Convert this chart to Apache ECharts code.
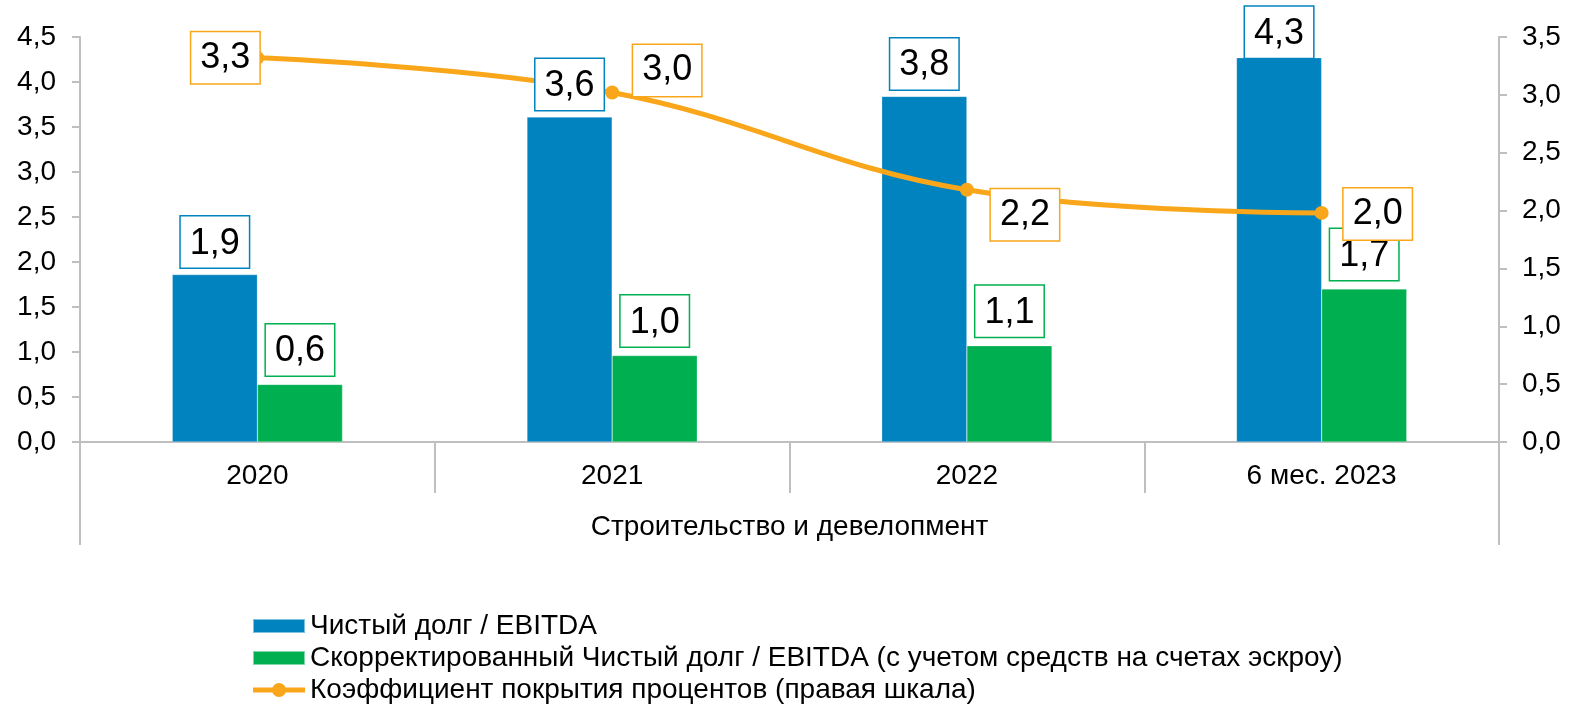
<!DOCTYPE html>
<html><head><meta charset="utf-8">
<script src="https://cdn.jsdelivr.net/npm/echarts@6/dist/echarts.min.js"></script>
<style>html,body{margin:0;padding:0;background:#fff}#c{width:1570px;height:706px}</style>
</head><body><div id="c"></div>
<script>
const categories = ['2020', '2021', '2022', '6 мес. 2023'];
const groupLabel = ['Строительство и девелопмент'];
const netDebt = [1.86, 3.61, 3.84, 4.27];
const adjNetDebt = [0.64, 0.96, 1.07, 1.70];
const coverage = [3.32, 3.02, 2.18, 1.98];
const leftTicks = {min: 0, max: 4.5, interval: 0.5};
const rightTicks = {min: 0, max: 3.5, interval: 0.5};
const names = ['Чистый долг / EBITDA', 'Скорректированный Чистый долг / EBITDA (с учетом средств на счетах эскроу)', 'Коэффициент покрытия процентов (правая шкала)'];

const BLUE = '#0083BE', GREEN = '#00B050', ORANGE = '#F9A61A', AX = '#BFBFBF';
const FONT = 'Liberation Sans, Arial, sans-serif';
const fmt1 = v => v.toFixed(1).replace('.', ',');

function boxLabel(color, extra) {
  return Object.assign({
    show: true, fontSize: 36, fontFamily: FONT, color: '#000',
    backgroundColor: '#fff', borderColor: color, borderWidth: 1.5,
    padding: [9, 9, 6, 9], formatter: p => fmt1(p.value)
  }, extra || {});
}

const lineLabelPos = [
  {position: 'left', distance: -9, offset: [0, 0]},
  {position: 'right', distance: 14, offset: [0, -22]},
  {position: 'right', distance: 17, offset: [0, 25]},
  {position: 'right', distance: 15, offset: [0, 1]}
];
const blueLabelDist = [7, 7, 7, 0];

const lineIcon = 'path://M0,4.5H52V9.5H0Z M19,7A7,7 0 1,1 33,7A7,7 0 1,1 19,7Z';

const hiddenAxisBase = {type: 'category', data: categories, show: false, gridIndex: 0};

const chart = echarts.init(document.getElementById('c'));
chart.setOption({
  animation: false,
  textStyle: {fontFamily: FONT},
  grid: {left: 80, right: 71, top: 37, bottom: 264},
  xAxis: [{
    type: 'category', data: categories, position: 'bottom',
    axisLine: {lineStyle: {color: AX, width: 2}},
    axisTick: {show: true, length: 51, lineStyle: {color: AX, width: 2}},
    axisLabel: {fontSize: 28, color: '#000', margin: 20, fontFamily: FONT}
  }, {
    type: 'category', data: groupLabel, position: 'bottom',
    axisLine: {show: false},
    axisTick: {show: true, length: 103, lineStyle: {color: AX, width: 2}},
    axisLabel: {fontSize: 28, color: '#000', margin: 71, fontFamily: FONT}
  }, hiddenAxisBase],
  yAxis: [{
    type: 'value', min: leftTicks.min, max: leftTicks.max, interval: leftTicks.interval,
    position: 'left', splitLine: {show: false},
    axisLine: {show: true, lineStyle: {color: AX, width: 2}},
    axisTick: {show: true, length: 8, lineStyle: {color: AX, width: 2}},
    axisLabel: {fontSize: 28, color: '#000', margin: 24, formatter: fmt1, fontFamily: FONT}
  }, {
    type: 'value', min: rightTicks.min, max: rightTicks.max, interval: rightTicks.interval,
    position: 'right', splitLine: {show: false},
    axisLine: {show: true, lineStyle: {color: AX, width: 2}},
    axisTick: {show: true, length: 8, lineStyle: {color: AX, width: 2}},
    axisLabel: {fontSize: 28, color: '#000', margin: 23, formatter: fmt1, fontFamily: FONT}
  }],
  legend: {
    orient: 'vertical', left: 252, top: 612, height: 140, padding: 0,
    itemWidth: 52, itemHeight: 14, itemGap: 4,
    textStyle: {fontSize: 28, color: '#000', fontFamily: FONT},
    data: [
      {name: names[0], icon: 'rect'},
      {name: names[1], icon: 'rect'},
      {name: names[2], icon: lineIcon, itemStyle: {color: ORANGE}}
    ]
  },
  series: [{
    name: names[0], type: 'bar', data: netDebt, xAxisIndex: 0, yAxisIndex: 0,
    barGap: '0%', barCategoryGap: '52%', z: 2,
    itemStyle: {color: BLUE, borderColor: 'rgba(255,255,255,0.5)', borderWidth: 0.5}
  }, {
    name: names[1], type: 'bar', data: adjNetDebt, xAxisIndex: 0, yAxisIndex: 0, z: 2,
    itemStyle: {color: GREEN, borderColor: 'rgba(255,255,255,0.5)', borderWidth: 0.5},
    label: boxLabel(GREEN, {position: 'top', distance: 9})
  }, {
    name: names[2], type: 'line', xAxisIndex: 0, yAxisIndex: 1,
    smooth: 0.4, symbol: 'circle', symbolSize: 14, z: 3,
    lineStyle: {color: ORANGE, width: 5}, itemStyle: {color: ORANGE},
    data: coverage.map((v, i) => ({value: v, label: boxLabel(ORANGE, lineLabelPos[i])})),
    label: boxLabel(ORANGE)
  }, {
    name: 'labels-blue', type: 'bar', xAxisIndex: 2, yAxisIndex: 0,
    barGap: '0%', barCategoryGap: '52%', z: 4, silent: true,
    itemStyle: {color: 'rgba(0,0,0,0)'},
    data: netDebt.map((v, i) => ({value: v, label: boxLabel(BLUE, {position: 'top', distance: blueLabelDist[i]})}))
  }, {
    name: 'labels-placeholder', type: 'bar', xAxisIndex: 2, yAxisIndex: 0, z: 4, silent: true,
    itemStyle: {color: 'rgba(0,0,0,0)'}, data: adjNetDebt
  }]
});
</script></body></html>
